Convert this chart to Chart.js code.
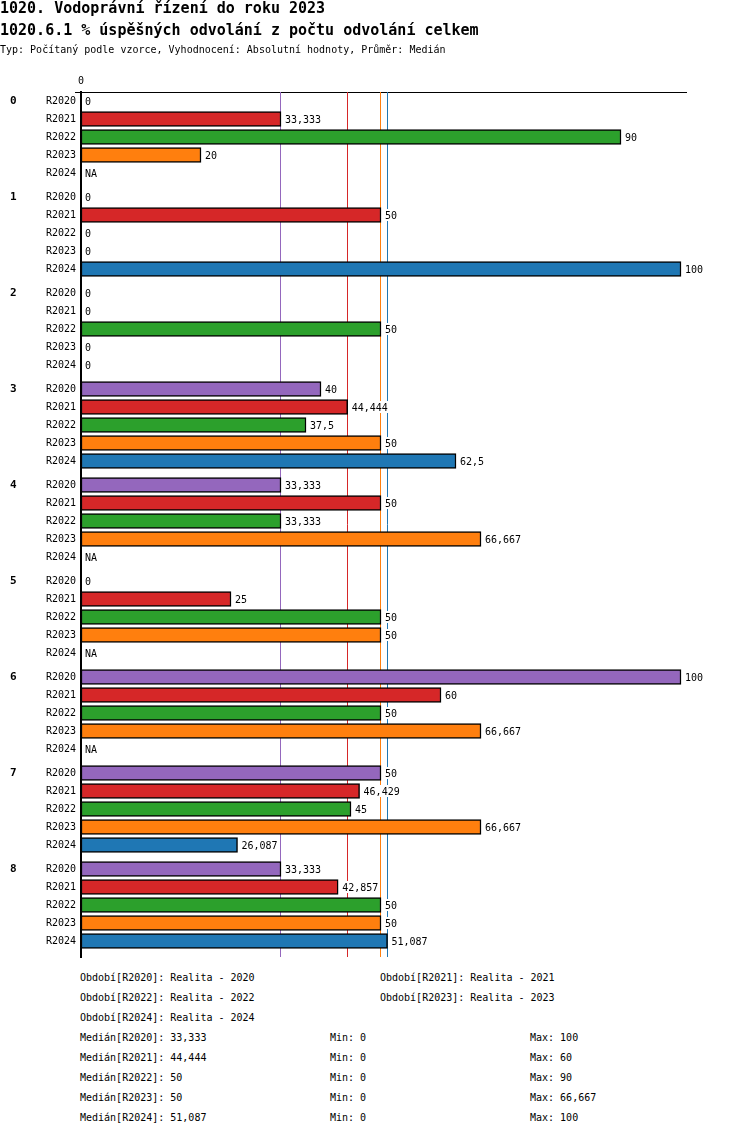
<!DOCTYPE html>
<html>
<head>
<meta charset="utf-8">
<script src="https://cdn.jsdelivr.net/npm/chart.js@4/dist/chart.umd.min.js"></script>
<style>
  body { margin: 0; background: #fff; color: #000; font-family: "DejaVu Sans Mono", monospace; }
  #wrap { position: relative; width: 750px; height: 1136px; overflow: hidden; }
  #chart { position: absolute; left: 0; top: 0; }
  .t { position: absolute; white-space: pre; }
  .h1 { font-size: 15px; font-weight: bold; line-height: 16px; left: 0; }
  .sub { font-size: 10px; line-height: 12px; left: 0; }
  .f { font-size: 10px; line-height: 12px; }
</style>
</head>
<body>
<div id="wrap">
  <canvas id="chart" width="750" height="970"></canvas>
  <div class="t h1" style="top:0px">1020. Vodoprávní řízení do roku 2023</div>
  <div class="t h1" style="top:22px">1020.6.1 % úspěšných odvolání z počtu odvolání celkem</div>
  <div class="t sub" style="top:44px">Typ: Počítaný podle vzorce, Vyhodnocení: Absolutní hodnoty, Průměr: Medián</div>
  <div id="foot"></div>
</div>
<script>
  const groups = ["0", "1", "2", "3", "4", "5", "6", "7", "8"];
  const periods = ["R2020", "R2021", "R2022", "R2023", "R2024"];
  const periodNames = ["Realita - 2020", "Realita - 2021", "Realita - 2022", "Realita - 2023", "Realita - 2024"];
  const colors = ["#9467bd", "#d62728", "#2ca02c", "#ff7f0e", "#1f77b4"];

  const r2020 = [0, 0, 0, 40, 33.333, 0, 100, 50, 33.333];
  const r2021 = [33.333, 50, 0, 44.444, 50, 25, 60, 46.429, 42.857];
  const r2022 = [90, 0, 50, 37.5, 33.333, 50, 50, 45, 50];
  const r2023 = [20, 0, 0, 50, 66.667, 50, 66.667, 66.667, 50];
  const r2024 = [null, 100, 0, 62.5, null, null, null, 26.087, 51.087];
  const series = [r2020, r2021, r2022, r2023, r2024];

  const medians = [33.333, 44.444, 50, 50, 51.087];
  const mins = [0, 0, 0, 0, 0];
  const maxs = [100, 60, 90, 66.667, 100];

  // row slots: 3 per row, 16 per group (one spare slot as gap)
  const slot = (g, r) => 1.5 + g * 16 + r * 3;
  const fmt = v => String(v).replace(".", ",");

  const rowTicks = [];
  groups.forEach((g, gi) => periods.forEach((p, r) => rowTicks.push({ value: slot(gi, r) })));
  const groupTicks = groups.map((g, gi) => ({ value: slot(gi, 0) }));

  const medianLines = {
    id: "medianLines",
    beforeDatasetsDraw(chart) {
      const { ctx, chartArea, scales } = chart;
      ctx.save();
      ctx.lineWidth = 1;
      medians.forEach((m, i) => {
        const x = Math.round(scales.x.getPixelForValue(m)) - 0.5;
        ctx.strokeStyle = colors[i];
        ctx.beginPath();
        ctx.moveTo(x, chartArea.top);
        ctx.lineTo(x, chartArea.bottom);
        ctx.stroke();
      });
      // small stub of the top line left of the axis
      ctx.strokeStyle = "#000";
      ctx.beginPath();
      ctx.moveTo(chartArea.left - 6, chartArea.top + 0.5);
      ctx.lineTo(chartArea.left, chartArea.top + 0.5);
      ctx.stroke();
      ctx.restore();
    }
  };

  const valueLabels = {
    id: "valueLabels",
    afterDatasetsDraw(chart) {
      const { ctx, scales } = chart;
      ctx.save();
      ctx.font = "10px 'DejaVu Sans Mono'";
      ctx.textBaseline = "middle";
      ctx.textAlign = "left";
      series.forEach((vals, r) => {
        vals.forEach((v, g) => {
          const txt = v == null ? "NA" : fmt(v);
          const x = scales.x.getPixelForValue(v == null ? 0 : v) + 4;
          const y = scales.y.getPixelForValue(slot(g, r));
          const w = ctx.measureText(txt).width;
          ctx.fillStyle = "#fff";
          ctx.fillRect(x - 1, y - 6, w + 2, 12);
          ctx.fillStyle = "#000";
          ctx.fillText(txt, x, y + 1);
        });
      });
      ctx.restore();
    }
  };

  new Chart(document.getElementById("chart").getContext("2d"), {
    type: "bar",
    data: {
      datasets: periods.map((p, r) => ({
        label: p,
        data: series[r].map((v, g) => ({ x: v, y: slot(g, r) })),
        backgroundColor: colors[r],
        borderColor: "#000",
        borderWidth: 1.5,
        borderSkipped: false,
        barThickness: 15,
        grouped: false
      }))
    },
    options: {
      indexAxis: "y",
      responsive: false,
      animation: false,
      layout: { padding: { left: 10, right: 64, top: 0, bottom: 13 } },
      plugins: { legend: { display: false }, tooltip: { enabled: false } },
      scales: {
        x: {
          type: "linear",
          position: "top",
          min: 0,
          max: 100.8333,
          grid: { display: false, drawTicks: false, tickLength: 0 },
          border: { display: true, color: "#000", width: 1 },
          afterBuildTicks: s => { s.ticks = [{ value: 0 }]; },
          afterFit: s => { s.height = 92; },
          ticks: { padding: 5, color: "#000", font: { family: "DejaVu Sans Mono", size: 10 } }
        },
        y: {
          type: "linear",
          position: "left",
          reverse: true,
          offset: false,
          min: 0,
          max: 865 / 6,
          weight: 0,
          z: 1,
          grid: { display: false, drawTicks: false, tickLength: 0, offset: false },
          border: { display: true, color: "#000", width: 2 },
          afterBuildTicks: s => { s.ticks = rowTicks.map(t => ({ value: t.value })); },
          afterFit: s => { s.width = 41; },
          ticks: {
            padding: 5,
            color: "#000",
            font: { family: "DejaVu Sans Mono", size: 10 },
            callback: (v, i) => periods[i % 5]
          }
        },
        g: {
          type: "linear",
          axis: "y",
          position: "left",
          reverse: true,
          offset: false,
          min: 0,
          max: 865 / 6,
          weight: 1,
          grid: { display: false, drawTicks: false, tickLength: 0, offset: false },
          border: { display: false },
          afterBuildTicks: s => { s.ticks = groupTicks.map(t => ({ value: t.value })); },
          afterFit: s => { s.width = 30; },
          ticks: {
            crossAlign: "far",
            color: "#000",
            font: { family: "DejaVu Sans Mono", size: 11, weight: "bold" },
            callback: (v, i) => groups[i]
          }
        }
      }
    },
    plugins: [medianLines, valueLabels]
  });

  // footer text
  const foot = document.getElementById("foot");
  const addText = (txt, x, y) => {
    const d = document.createElement("div");
    d.className = "t f";
    d.style.left = x + "px";
    d.style.top = (y - 6) + "px";
    d.textContent = txt;
    foot.appendChild(d);
  };
  periods.forEach((p, i) => {
    addText("Období[" + p + "]: " + periodNames[i], i % 2 ? 380 : 80, 978 + Math.floor(i / 2) * 20);
  });
  periods.forEach((p, i) => {
    const y = 1038 + i * 20;
    addText("Medián[" + p + "]: " + fmt(medians[i]), 80, y);
    addText("Min: " + fmt(mins[i]), 330, y);
    addText("Max: " + fmt(maxs[i]), 530, y);
  });
</script>
</body>
</html>
